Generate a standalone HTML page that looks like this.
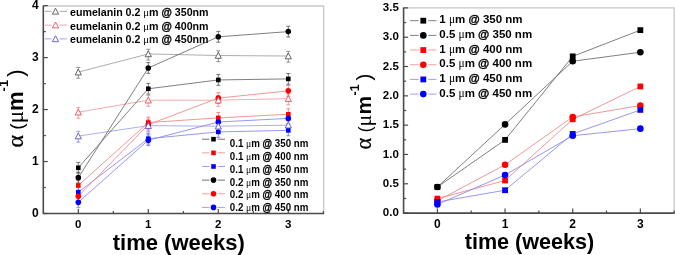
<!DOCTYPE html>
<html><head><meta charset="utf-8"><style>
html,body{margin:0;padding:0;background:#fff;width:675px;height:255px;overflow:hidden;position:relative}
</style></head><body>
<svg width="675" height="255" viewBox="0 0 675 255" style="position:absolute;left:0;top:0;will-change:transform">
<rect width="675" height="255" fill="#fff"/>
<path d="M43.3,6.0 H323.7 V213.5" fill="none" stroke="#c8c8c8" stroke-width="1.3"/>
<polyline points="78.30,72.14 148.30,53.95 218.30,55.51 288.30,56.03" fill="none" stroke="#a4a4a4" stroke-width="0.9"/>
<polyline points="78.30,112.16 148.30,100.21 218.30,100.21 288.30,98.65" fill="none" stroke="#f0a4a4" stroke-width="0.9"/>
<polyline points="78.30,136.06 148.30,125.67 218.30,126.19 288.30,125.15" fill="none" stroke="#a4a4f0" stroke-width="0.9"/>
<polyline points="78.30,167.77 148.30,88.77 218.30,79.94 288.30,78.90" fill="none" stroke="#707070" stroke-width="0.9"/>
<polyline points="78.30,185.44 148.30,122.55 218.30,117.88 288.30,114.24" fill="none" stroke="#ec8c8c" stroke-width="0.9"/>
<polyline points="78.30,192.19 148.30,138.66 218.30,131.91 288.30,130.35" fill="none" stroke="#8c8cec" stroke-width="0.9"/>
<polyline points="78.30,177.64 148.30,67.98 218.30,36.80 288.30,31.61" fill="none" stroke="#707070" stroke-width="0.9"/>
<polyline points="78.30,196.35 148.30,124.63 218.30,98.13 288.30,90.85" fill="none" stroke="#ec8c8c" stroke-width="0.9"/>
<polyline points="78.30,202.33 148.30,140.22 218.30,122.03 288.30,118.39" fill="none" stroke="#8c8cec" stroke-width="0.9"/>
<path d="M78.30,67.44 V78.24 M76.30,67.44 H80.30 M76.30,78.24 H80.30" stroke="#7a7a7a" stroke-width="0.8" fill="none"/>
<path d="M148.30,49.25 V60.05 M146.30,49.25 H150.30 M146.30,60.05 H150.30" stroke="#7a7a7a" stroke-width="0.8" fill="none"/>
<path d="M218.30,50.81 V61.61 M216.30,50.81 H220.30 M216.30,61.61 H220.30" stroke="#7a7a7a" stroke-width="0.8" fill="none"/>
<path d="M288.30,51.33 V62.13 M286.30,51.33 H290.30 M286.30,62.13 H290.30" stroke="#7a7a7a" stroke-width="0.8" fill="none"/>
<path d="M78.30,107.46 V118.26 M76.30,107.46 H80.30 M76.30,118.26 H80.30" stroke="#e88a8a" stroke-width="0.8" fill="none"/>
<path d="M148.30,95.51 V106.31 M146.30,95.51 H150.30 M146.30,106.31 H150.30" stroke="#e88a8a" stroke-width="0.8" fill="none"/>
<path d="M218.30,95.51 V106.31 M216.30,95.51 H220.30 M216.30,106.31 H220.30" stroke="#e88a8a" stroke-width="0.8" fill="none"/>
<path d="M288.30,93.95 V104.75 M286.30,93.95 H290.30 M286.30,104.75 H290.30" stroke="#e88a8a" stroke-width="0.8" fill="none"/>
<path d="M78.30,131.36 V142.16 M76.30,131.36 H80.30 M76.30,142.16 H80.30" stroke="#8a8ae8" stroke-width="0.8" fill="none"/>
<path d="M148.30,120.97 V131.77 M146.30,120.97 H150.30 M146.30,131.77 H150.30" stroke="#8a8ae8" stroke-width="0.8" fill="none"/>
<path d="M218.30,121.49 V132.29 M216.30,121.49 H220.30 M216.30,132.29 H220.30" stroke="#8a8ae8" stroke-width="0.8" fill="none"/>
<path d="M288.30,120.45 V131.25 M286.30,120.45 H290.30 M286.30,131.25 H290.30" stroke="#8a8ae8" stroke-width="0.8" fill="none"/>
<path d="M78.30,162.37 V173.17 M76.30,162.37 H80.30 M76.30,173.17 H80.30" stroke="#555555" stroke-width="0.8" fill="none"/>
<path d="M148.30,83.37 V94.17 M146.30,83.37 H150.30 M146.30,94.17 H150.30" stroke="#555555" stroke-width="0.8" fill="none"/>
<path d="M218.30,74.54 V85.34 M216.30,74.54 H220.30 M216.30,85.34 H220.30" stroke="#555555" stroke-width="0.8" fill="none"/>
<path d="M288.30,73.50 V84.30 M286.30,73.50 H290.30 M286.30,84.30 H290.30" stroke="#555555" stroke-width="0.8" fill="none"/>
<path d="M78.30,180.04 V190.84 M76.30,180.04 H80.30 M76.30,190.84 H80.30" stroke="#ec7070" stroke-width="0.8" fill="none"/>
<path d="M148.30,117.15 V127.95 M146.30,117.15 H150.30 M146.30,127.95 H150.30" stroke="#ec7070" stroke-width="0.8" fill="none"/>
<path d="M218.30,112.48 V123.28 M216.30,112.48 H220.30 M216.30,123.28 H220.30" stroke="#ec7070" stroke-width="0.8" fill="none"/>
<path d="M288.30,108.84 V119.64 M286.30,108.84 H290.30 M286.30,119.64 H290.30" stroke="#ec7070" stroke-width="0.8" fill="none"/>
<path d="M78.30,186.79 V197.59 M76.30,186.79 H80.30 M76.30,197.59 H80.30" stroke="#7070ec" stroke-width="0.8" fill="none"/>
<path d="M148.30,133.26 V144.06 M146.30,133.26 H150.30 M146.30,144.06 H150.30" stroke="#7070ec" stroke-width="0.8" fill="none"/>
<path d="M218.30,126.51 V137.31 M216.30,126.51 H220.30 M216.30,137.31 H220.30" stroke="#7070ec" stroke-width="0.8" fill="none"/>
<path d="M288.30,124.95 V135.75 M286.30,124.95 H290.30 M286.30,135.75 H290.30" stroke="#7070ec" stroke-width="0.8" fill="none"/>
<path d="M78.30,172.24 V183.04 M76.30,172.24 H80.30 M76.30,183.04 H80.30" stroke="#555555" stroke-width="0.8" fill="none"/>
<path d="M148.30,62.58 V73.38 M146.30,62.58 H150.30 M146.30,73.38 H150.30" stroke="#555555" stroke-width="0.8" fill="none"/>
<path d="M218.30,31.40 V42.20 M216.30,31.40 H220.30 M216.30,42.20 H220.30" stroke="#555555" stroke-width="0.8" fill="none"/>
<path d="M288.30,26.21 V37.01 M286.30,26.21 H290.30 M286.30,37.01 H290.30" stroke="#555555" stroke-width="0.8" fill="none"/>
<path d="M78.30,190.95 V201.75 M76.30,190.95 H80.30 M76.30,201.75 H80.30" stroke="#ec7070" stroke-width="0.8" fill="none"/>
<path d="M148.30,119.23 V130.03 M146.30,119.23 H150.30 M146.30,130.03 H150.30" stroke="#ec7070" stroke-width="0.8" fill="none"/>
<path d="M218.30,92.73 V103.53 M216.30,92.73 H220.30 M216.30,103.53 H220.30" stroke="#ec7070" stroke-width="0.8" fill="none"/>
<path d="M288.30,85.45 V96.25 M286.30,85.45 H290.30 M286.30,96.25 H290.30" stroke="#ec7070" stroke-width="0.8" fill="none"/>
<path d="M78.30,196.93 V207.73 M76.30,196.93 H80.30 M76.30,207.73 H80.30" stroke="#7070ec" stroke-width="0.8" fill="none"/>
<path d="M148.30,134.82 V145.62 M146.30,134.82 H150.30 M146.30,145.62 H150.30" stroke="#7070ec" stroke-width="0.8" fill="none"/>
<path d="M218.30,116.63 V127.43 M216.30,116.63 H220.30 M216.30,127.43 H220.30" stroke="#7070ec" stroke-width="0.8" fill="none"/>
<path d="M288.30,112.99 V123.79 M286.30,112.99 H290.30 M286.30,123.79 H290.30" stroke="#7070ec" stroke-width="0.8" fill="none"/>
<rect x="76.00" y="165.47" width="4.60" height="4.60" fill="#000000"/>
<rect x="146.00" y="86.47" width="4.60" height="4.60" fill="#000000"/>
<rect x="216.00" y="77.64" width="4.60" height="4.60" fill="#000000"/>
<rect x="286.00" y="76.60" width="4.60" height="4.60" fill="#000000"/>
<rect x="76.00" y="183.14" width="4.60" height="4.60" fill="#ff0000"/>
<rect x="146.00" y="120.25" width="4.60" height="4.60" fill="#ff0000"/>
<rect x="216.00" y="115.58" width="4.60" height="4.60" fill="#ff0000"/>
<rect x="286.00" y="111.94" width="4.60" height="4.60" fill="#ff0000"/>
<rect x="76.00" y="189.89" width="4.60" height="4.60" fill="#0000ff"/>
<rect x="146.00" y="136.36" width="4.60" height="4.60" fill="#0000ff"/>
<rect x="216.00" y="129.61" width="4.60" height="4.60" fill="#0000ff"/>
<rect x="286.00" y="128.05" width="4.60" height="4.60" fill="#0000ff"/>
<circle cx="78.30" cy="177.64" r="2.80" fill="#000000"/>
<circle cx="148.30" cy="67.98" r="2.80" fill="#000000"/>
<circle cx="218.30" cy="36.80" r="2.80" fill="#000000"/>
<circle cx="288.30" cy="31.61" r="2.80" fill="#000000"/>
<circle cx="78.30" cy="196.35" r="2.80" fill="#ff0000"/>
<circle cx="148.30" cy="124.63" r="2.80" fill="#ff0000"/>
<circle cx="218.30" cy="98.13" r="2.80" fill="#ff0000"/>
<circle cx="288.30" cy="90.85" r="2.80" fill="#ff0000"/>
<circle cx="78.30" cy="202.33" r="2.80" fill="#0000ff"/>
<circle cx="148.30" cy="140.22" r="2.80" fill="#0000ff"/>
<circle cx="218.30" cy="122.03" r="2.80" fill="#0000ff"/>
<circle cx="288.30" cy="118.39" r="2.80" fill="#0000ff"/>
<polygon points="78.30,69.05 81.40,74.93 75.20,74.93" fill="#fff" stroke="#555555" stroke-width="0.9"/>
<polygon points="148.30,50.86 151.40,56.74 145.20,56.74" fill="#fff" stroke="#555555" stroke-width="0.9"/>
<polygon points="218.30,52.42 221.40,58.30 215.20,58.30" fill="#fff" stroke="#555555" stroke-width="0.9"/>
<polygon points="288.30,52.94 291.40,58.82 285.20,58.82" fill="#fff" stroke="#555555" stroke-width="0.9"/>
<polygon points="78.30,109.07 81.40,114.95 75.20,114.95" fill="#fff" stroke="#e8505a" stroke-width="0.9"/>
<polygon points="148.30,97.12 151.40,103.00 145.20,103.00" fill="#fff" stroke="#e8505a" stroke-width="0.9"/>
<polygon points="218.30,97.12 221.40,103.00 215.20,103.00" fill="#fff" stroke="#e8505a" stroke-width="0.9"/>
<polygon points="288.30,95.56 291.40,101.44 285.20,101.44" fill="#fff" stroke="#e8505a" stroke-width="0.9"/>
<polygon points="78.30,132.97 81.40,138.85 75.20,138.85" fill="#fff" stroke="#5a5ad8" stroke-width="0.9"/>
<polygon points="148.30,122.58 151.40,128.46 145.20,128.46" fill="#fff" stroke="#5a5ad8" stroke-width="0.9"/>
<polygon points="218.30,123.10 221.40,128.98 215.20,128.98" fill="#fff" stroke="#5a5ad8" stroke-width="0.9"/>
<polygon points="288.30,122.06 291.40,127.94 285.20,127.94" fill="#fff" stroke="#5a5ad8" stroke-width="0.9"/>
<path d="M43.3,5.5 V213.5 H324.2" fill="none" stroke="#4a4a4a" stroke-width="1.6"/>
<path d="M78.30,213.5 V209.0" stroke="#4a4a4a" stroke-width="1.2"/>
<path d="M113.30,213.5 V211.0" stroke="#4a4a4a" stroke-width="1.2"/>
<path d="M148.30,213.5 V209.0" stroke="#4a4a4a" stroke-width="1.2"/>
<path d="M183.30,213.5 V211.0" stroke="#4a4a4a" stroke-width="1.2"/>
<path d="M218.30,213.5 V209.0" stroke="#4a4a4a" stroke-width="1.2"/>
<path d="M253.30,213.5 V211.0" stroke="#4a4a4a" stroke-width="1.2"/>
<path d="M288.30,213.5 V209.0" stroke="#4a4a4a" stroke-width="1.2"/>
<path d="M323.30,213.5 V211.0" stroke="#4a4a4a" stroke-width="1.2"/>
<path d="M43.3,213.50 H47.8" stroke="#4a4a4a" stroke-width="1.2"/>
<path d="M43.3,161.53 H47.8" stroke="#4a4a4a" stroke-width="1.2"/>
<path d="M43.3,109.56 H47.8" stroke="#4a4a4a" stroke-width="1.2"/>
<path d="M43.3,57.59 H47.8" stroke="#4a4a4a" stroke-width="1.2"/>
<path d="M43.3,5.62 H47.8" stroke="#4a4a4a" stroke-width="1.2"/>
<path d="M43.3,187.51 H45.8" stroke="#4a4a4a" stroke-width="1.2"/>
<path d="M43.3,135.55 H45.8" stroke="#4a4a4a" stroke-width="1.2"/>
<path d="M43.3,83.57 H45.8" stroke="#4a4a4a" stroke-width="1.2"/>
<path d="M43.3,31.61 H45.8" stroke="#4a4a4a" stroke-width="1.2"/>
<text x="38.8" y="216.90" text-anchor="end" font-family="Liberation Sans, sans-serif" font-weight="bold" font-size="12">0</text>
<text x="38.8" y="164.93" text-anchor="end" font-family="Liberation Sans, sans-serif" font-weight="bold" font-size="12">1</text>
<text x="38.8" y="112.96" text-anchor="end" font-family="Liberation Sans, sans-serif" font-weight="bold" font-size="12">2</text>
<text x="38.8" y="60.99" text-anchor="end" font-family="Liberation Sans, sans-serif" font-weight="bold" font-size="12">3</text>
<text x="38.8" y="9.02" text-anchor="end" font-family="Liberation Sans, sans-serif" font-weight="bold" font-size="12">4</text>
<text x="78.30" y="227.6" text-anchor="middle" font-family="Liberation Sans, sans-serif" font-weight="bold" font-size="11.5">0</text>
<text x="148.30" y="227.6" text-anchor="middle" font-family="Liberation Sans, sans-serif" font-weight="bold" font-size="11.5">1</text>
<text x="218.30" y="227.6" text-anchor="middle" font-family="Liberation Sans, sans-serif" font-weight="bold" font-size="11.5">2</text>
<text x="288.30" y="227.6" text-anchor="middle" font-family="Liberation Sans, sans-serif" font-weight="bold" font-size="11.5">3</text>
<text x="178.8" y="249.6" text-anchor="middle" font-family="Liberation Sans, sans-serif" font-weight="bold" font-size="22">time (weeks)</text>
<g transform="translate(22.6,147.5) rotate(-90)"><text x="0" y="0" font-family="Liberation Sans, sans-serif" font-weight="bold" font-size="22"><tspan font-family="Liberation Serif, serif" font-weight="normal" font-size="24" stroke="#000" stroke-width="0.25">α</tspan><tspan font-weight="normal" font-size="19"> (</tspan><tspan font-family="Liberation Serif, serif" font-weight="normal" font-size="23">μ</tspan>m<tspan dy="-14.5" font-size="13">-1</tspan><tspan dy="14.5" dx="3" font-weight="normal" font-size="22">)</tspan></text></g>
<path d="M44.8,11.30 H51.6 M59.4,11.30 H66.9" stroke="#a8a8a8" stroke-width="1"/>
<polygon points="55.50,8.21 58.60,14.09 52.40,14.09" fill="#fff" stroke="#555555" stroke-width="0.9"/>
<text x="70" y="15.80" font-family="Liberation Sans, sans-serif" font-weight="bold" font-size="10.65">eumelanin 0.2 <tspan font-family="Liberation Serif, serif" font-weight="normal">μ</tspan>m <tspan stroke="#000" stroke-width="0.35">@</tspan> 350nm</text>
<path d="M44.8,25.10 H51.6 M59.4,25.10 H66.9" stroke="#f2a4a4" stroke-width="1"/>
<polygon points="55.50,22.01 58.60,27.89 52.40,27.89" fill="#fff" stroke="#e8505a" stroke-width="0.9"/>
<text x="70" y="29.60" font-family="Liberation Sans, sans-serif" font-weight="bold" font-size="10.65">eumelanin 0.2 <tspan font-family="Liberation Serif, serif" font-weight="normal">μ</tspan>m <tspan stroke="#000" stroke-width="0.35">@</tspan> 400nm</text>
<path d="M44.8,38.90 H51.6 M59.4,38.90 H66.9" stroke="#a4a4ee" stroke-width="1"/>
<polygon points="55.50,35.81 58.60,41.69 52.40,41.69" fill="#fff" stroke="#5a5ad8" stroke-width="0.9"/>
<text x="70" y="43.40" font-family="Liberation Sans, sans-serif" font-weight="bold" font-size="10.65">eumelanin 0.2 <tspan font-family="Liberation Serif, serif" font-weight="normal">μ</tspan>m <tspan stroke="#000" stroke-width="0.35">@</tspan> 450nm</text>
<path d="M202,139.20 H209.4 M217.6,139.20 H225" stroke="#707070" stroke-width="1"/>
<rect x="211.20" y="136.90" width="4.60" height="4.60" fill="#000"/>
<text transform="translate(229.8,147.10) scale(1,1.08)" font-family="Liberation Sans, sans-serif" font-weight="bold" font-size="9.75">0.1 <tspan font-family="Liberation Serif, serif" font-weight="normal">μ</tspan>m <tspan stroke="#000" stroke-width="0.35">@</tspan> 350 nm</text>
<path d="M202,152.84 H209.4 M217.6,152.84 H225" stroke="#f0a0a0" stroke-width="1"/>
<rect x="211.20" y="150.54" width="4.60" height="4.60" fill="#f00"/>
<text transform="translate(229.8,159.90) scale(1,1.08)" font-family="Liberation Sans, sans-serif" font-weight="bold" font-size="9.75">0.1 <tspan font-family="Liberation Serif, serif" font-weight="normal">μ</tspan>m <tspan stroke="#000" stroke-width="0.35">@</tspan> 400 nm</text>
<path d="M202,166.48 H209.4 M217.6,166.48 H225" stroke="#a0a0f0" stroke-width="1"/>
<rect x="211.20" y="164.18" width="4.60" height="4.60" fill="#00f"/>
<text transform="translate(229.8,172.70) scale(1,1.08)" font-family="Liberation Sans, sans-serif" font-weight="bold" font-size="9.75">0.1 <tspan font-family="Liberation Serif, serif" font-weight="normal">μ</tspan>m <tspan stroke="#000" stroke-width="0.35">@</tspan> 450 nm</text>
<path d="M202,180.12 H209.4 M217.6,180.12 H225" stroke="#707070" stroke-width="1"/>
<circle cx="213.50" cy="180.12" r="2.80" fill="#000"/>
<text transform="translate(229.8,185.50) scale(1,1.08)" font-family="Liberation Sans, sans-serif" font-weight="bold" font-size="9.75">0.2 <tspan font-family="Liberation Serif, serif" font-weight="normal">μ</tspan>m <tspan stroke="#000" stroke-width="0.35">@</tspan> 350 nm</text>
<path d="M202,193.76 H209.4 M217.6,193.76 H225" stroke="#f0a0a0" stroke-width="1"/>
<circle cx="213.50" cy="193.76" r="2.80" fill="#f00"/>
<text transform="translate(229.8,198.30) scale(1,1.08)" font-family="Liberation Sans, sans-serif" font-weight="bold" font-size="9.75">0.2 <tspan font-family="Liberation Serif, serif" font-weight="normal">μ</tspan>m <tspan stroke="#000" stroke-width="0.35">@</tspan> 400 nm</text>
<path d="M202,207.40 H209.4 M217.6,207.40 H225" stroke="#a0a0f0" stroke-width="1"/>
<circle cx="213.50" cy="207.40" r="2.80" fill="#00f"/>
<text transform="translate(229.8,211.10) scale(1,1.08)" font-family="Liberation Sans, sans-serif" font-weight="bold" font-size="9.75">0.2 <tspan font-family="Liberation Serif, serif" font-weight="normal">μ</tspan>m <tspan stroke="#000" stroke-width="0.35">@</tspan> 450 nm</text>
<path d="M403.6,7.9 H674.2 V213.1" fill="none" stroke="#c8c8c8" stroke-width="1.3"/>
<polyline points="437.40,187.01 505.05,139.87 572.70,56.38 640.35,30.17" fill="none" stroke="#707070" stroke-width="0.9"/>
<polyline points="437.40,187.01 505.05,124.39 572.70,61.25 640.35,52.22" fill="none" stroke="#707070" stroke-width="0.9"/>
<polyline points="437.40,198.62 505.05,180.50 572.70,119.29 640.35,86.46" fill="none" stroke="#ec8c8c" stroke-width="0.9"/>
<polyline points="437.40,200.79 505.05,164.79 572.70,116.95 640.35,105.51" fill="none" stroke="#ec8c8c" stroke-width="0.9"/>
<polyline points="437.40,201.96 505.05,190.23 572.70,133.95 640.35,109.91" fill="none" stroke="#8c8cec" stroke-width="0.9"/>
<polyline points="437.40,204.48 505.05,174.99 572.70,135.71 640.35,128.67" fill="none" stroke="#8c8cec" stroke-width="0.9"/>
<rect x="434.50" y="184.11" width="5.80" height="5.80" fill="#000000"/>
<rect x="502.15" y="136.97" width="5.80" height="5.80" fill="#000000"/>
<rect x="569.80" y="53.48" width="5.80" height="5.80" fill="#000000"/>
<rect x="637.45" y="27.27" width="5.80" height="5.80" fill="#000000"/>
<circle cx="437.40" cy="187.01" r="3.30" fill="#000000"/>
<circle cx="505.05" cy="124.39" r="3.30" fill="#000000"/>
<circle cx="572.70" cy="61.25" r="3.30" fill="#000000"/>
<circle cx="640.35" cy="52.22" r="3.30" fill="#000000"/>
<rect x="434.50" y="195.72" width="5.80" height="5.80" fill="#ff0000"/>
<rect x="502.15" y="177.60" width="5.80" height="5.80" fill="#ff0000"/>
<rect x="569.80" y="116.39" width="5.80" height="5.80" fill="#ff0000"/>
<rect x="637.45" y="83.56" width="5.80" height="5.80" fill="#ff0000"/>
<circle cx="437.40" cy="200.79" r="3.30" fill="#ff0000"/>
<circle cx="505.05" cy="164.79" r="3.30" fill="#ff0000"/>
<circle cx="572.70" cy="116.95" r="3.30" fill="#ff0000"/>
<circle cx="640.35" cy="105.51" r="3.30" fill="#ff0000"/>
<rect x="434.50" y="199.06" width="5.80" height="5.80" fill="#0000ff"/>
<rect x="502.15" y="187.33" width="5.80" height="5.80" fill="#0000ff"/>
<rect x="569.80" y="131.05" width="5.80" height="5.80" fill="#0000ff"/>
<rect x="637.45" y="107.01" width="5.80" height="5.80" fill="#0000ff"/>
<circle cx="437.40" cy="204.48" r="3.30" fill="#0000ff"/>
<circle cx="505.05" cy="174.99" r="3.30" fill="#0000ff"/>
<circle cx="572.70" cy="135.71" r="3.30" fill="#0000ff"/>
<circle cx="640.35" cy="128.67" r="3.30" fill="#0000ff"/>
<path d="M403.6,7.4 V213.1 H674.7" fill="none" stroke="#4a4a4a" stroke-width="1.6"/>
<path d="M437.40,213.1 V208.6" stroke="#4a4a4a" stroke-width="1.2"/>
<path d="M471.20,213.1 V210.6" stroke="#4a4a4a" stroke-width="1.2"/>
<path d="M505.05,213.1 V208.6" stroke="#4a4a4a" stroke-width="1.2"/>
<path d="M538.85,213.1 V210.6" stroke="#4a4a4a" stroke-width="1.2"/>
<path d="M572.70,213.1 V208.6" stroke="#4a4a4a" stroke-width="1.2"/>
<path d="M606.50,213.1 V210.6" stroke="#4a4a4a" stroke-width="1.2"/>
<path d="M640.35,213.1 V208.6" stroke="#4a4a4a" stroke-width="1.2"/>
<path d="M674.15,213.1 V210.6" stroke="#4a4a4a" stroke-width="1.2"/>
<path d="M403.6,213.10 H408.1" stroke="#4a4a4a" stroke-width="1.2"/>
<path d="M403.6,198.44 H406.1" stroke="#4a4a4a" stroke-width="1.2"/>
<path d="M403.6,183.78 H408.1" stroke="#4a4a4a" stroke-width="1.2"/>
<path d="M403.6,169.13 H406.1" stroke="#4a4a4a" stroke-width="1.2"/>
<path d="M403.6,154.47 H408.1" stroke="#4a4a4a" stroke-width="1.2"/>
<path d="M403.6,139.81 H406.1" stroke="#4a4a4a" stroke-width="1.2"/>
<path d="M403.6,125.15 H408.1" stroke="#4a4a4a" stroke-width="1.2"/>
<path d="M403.6,110.50 H406.1" stroke="#4a4a4a" stroke-width="1.2"/>
<path d="M403.6,95.84 H408.1" stroke="#4a4a4a" stroke-width="1.2"/>
<path d="M403.6,81.18 H406.1" stroke="#4a4a4a" stroke-width="1.2"/>
<path d="M403.6,66.52 H408.1" stroke="#4a4a4a" stroke-width="1.2"/>
<path d="M403.6,51.87 H406.1" stroke="#4a4a4a" stroke-width="1.2"/>
<path d="M403.6,37.21 H408.1" stroke="#4a4a4a" stroke-width="1.2"/>
<path d="M403.6,22.55 H406.1" stroke="#4a4a4a" stroke-width="1.2"/>
<path d="M403.6,7.89 H408.1" stroke="#4a4a4a" stroke-width="1.2"/>
<text x="398.8" y="216.20" text-anchor="end" font-family="Liberation Sans, sans-serif" font-weight="bold" font-size="11.5">0.0</text>
<text x="398.8" y="186.88" text-anchor="end" font-family="Liberation Sans, sans-serif" font-weight="bold" font-size="11.5">0.5</text>
<text x="398.8" y="157.57" text-anchor="end" font-family="Liberation Sans, sans-serif" font-weight="bold" font-size="11.5">1.0</text>
<text x="398.8" y="128.25" text-anchor="end" font-family="Liberation Sans, sans-serif" font-weight="bold" font-size="11.5">1.5</text>
<text x="398.8" y="98.94" text-anchor="end" font-family="Liberation Sans, sans-serif" font-weight="bold" font-size="11.5">2.0</text>
<text x="398.8" y="69.62" text-anchor="end" font-family="Liberation Sans, sans-serif" font-weight="bold" font-size="11.5">2.5</text>
<text x="398.8" y="40.31" text-anchor="end" font-family="Liberation Sans, sans-serif" font-weight="bold" font-size="11.5">3.0</text>
<text x="398.8" y="10.99" text-anchor="end" font-family="Liberation Sans, sans-serif" font-weight="bold" font-size="11.5">3.5</text>
<text x="437.40" y="227.8" text-anchor="middle" font-family="Liberation Sans, sans-serif" font-weight="bold" font-size="12">0</text>
<text x="505.05" y="227.8" text-anchor="middle" font-family="Liberation Sans, sans-serif" font-weight="bold" font-size="12">1</text>
<text x="572.70" y="227.8" text-anchor="middle" font-family="Liberation Sans, sans-serif" font-weight="bold" font-size="12">2</text>
<text x="640.35" y="227.8" text-anchor="middle" font-family="Liberation Sans, sans-serif" font-weight="bold" font-size="12">3</text>
<text x="529.5" y="249.2" text-anchor="middle" font-family="Liberation Sans, sans-serif" font-weight="bold" font-size="21.6">time (weeks)</text>
<g transform="translate(370.8,149.5) rotate(-90)"><text x="0" y="0" font-family="Liberation Sans, sans-serif" font-weight="bold" font-size="21"><tspan font-family="Liberation Serif, serif" font-weight="normal" font-size="22.5" stroke="#000" stroke-width="0.25">α</tspan><tspan font-weight="normal" font-size="18.5"> (</tspan><tspan font-family="Liberation Serif, serif" font-weight="normal" font-size="22">μ</tspan>m<tspan dy="-12" dx="0.5" font-size="12.5">-1</tspan><tspan dy="12" dx="3.8" font-weight="normal" font-size="20.5">)</tspan></text></g>
<path d="M410,20.70 H418.6 M428.2,20.70 H436.4" stroke="#808080" stroke-width="1"/>
<rect x="420.40" y="17.80" width="5.80" height="5.80" fill="#000"/>
<text x="439.3" y="23.30" font-family="Liberation Sans, sans-serif" font-weight="bold" font-size="11.5">1 <tspan font-family="Liberation Serif, serif" font-weight="normal">μ</tspan>m <tspan stroke="#000" stroke-width="0.35">@</tspan> 350 nm</text>
<path d="M410,35.38 H418.6 M428.2,35.38 H436.4" stroke="#808080" stroke-width="1"/>
<circle cx="423.30" cy="35.38" r="3.30" fill="#000"/>
<text x="439.3" y="37.98" font-family="Liberation Sans, sans-serif" font-weight="bold" font-size="11.5">0.5 <tspan font-family="Liberation Serif, serif" font-weight="normal">μ</tspan>m <tspan stroke="#000" stroke-width="0.35">@</tspan> 350 nm</text>
<path d="M410,50.06 H418.6 M428.2,50.06 H436.4" stroke="#f0a0a0" stroke-width="1"/>
<rect x="420.40" y="47.16" width="5.80" height="5.80" fill="#f00"/>
<text x="439.3" y="52.66" font-family="Liberation Sans, sans-serif" font-weight="bold" font-size="11.5">1 <tspan font-family="Liberation Serif, serif" font-weight="normal">μ</tspan>m <tspan stroke="#000" stroke-width="0.35">@</tspan> 400 nm</text>
<path d="M410,64.74 H418.6 M428.2,64.74 H436.4" stroke="#f0a0a0" stroke-width="1"/>
<circle cx="423.30" cy="64.74" r="3.30" fill="#f00"/>
<text x="439.3" y="67.34" font-family="Liberation Sans, sans-serif" font-weight="bold" font-size="11.5">0.5 <tspan font-family="Liberation Serif, serif" font-weight="normal">μ</tspan>m <tspan stroke="#000" stroke-width="0.35">@</tspan> 400 nm</text>
<path d="M410,79.42 H418.6 M428.2,79.42 H436.4" stroke="#a0a0f0" stroke-width="1"/>
<rect x="420.40" y="76.52" width="5.80" height="5.80" fill="#00f"/>
<text x="439.3" y="82.02" font-family="Liberation Sans, sans-serif" font-weight="bold" font-size="11.5">1 <tspan font-family="Liberation Serif, serif" font-weight="normal">μ</tspan>m <tspan stroke="#000" stroke-width="0.35">@</tspan> 450 nm</text>
<path d="M410,94.10 H418.6 M428.2,94.10 H436.4" stroke="#a0a0f0" stroke-width="1"/>
<circle cx="423.30" cy="94.10" r="3.30" fill="#00f"/>
<text x="439.3" y="96.70" font-family="Liberation Sans, sans-serif" font-weight="bold" font-size="11.5">0.5 <tspan font-family="Liberation Serif, serif" font-weight="normal">μ</tspan>m <tspan stroke="#000" stroke-width="0.35">@</tspan> 450 nm</text>
</svg>
</body></html>
